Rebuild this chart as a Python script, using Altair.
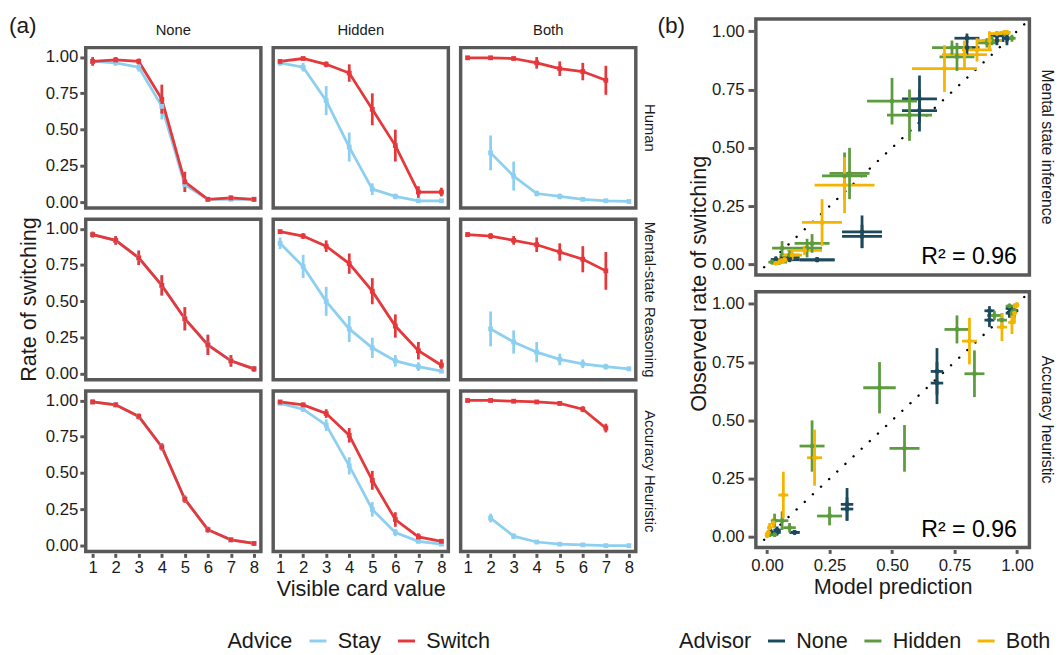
import altair as alt
import pandas as pd

FONT = "Liberation Sans"
TXT = "#1a1a1a"

cards = [1, 2, 3, 4, 5, 6, 7, 8]
models = ["Human", "Mental-state Reasoning", "Accuracy Heuristic"]
advisors = ["None", "Hidden", "Both"]
advices = ["Stay", "Switch"]

# ---- Human (observed) ----
human_none_stay = [0.97, 0.96, 0.93, 0.66, 0.12, 0.02, 0.02, 0.02]
human_none_stay_err = [0.02, 0.02, 0.03, 0.09, 0.05, 0.01, 0.01, 0.01]
human_none_switch = [0.97, 0.98, 0.97, 0.71, 0.14, 0.02, 0.03, 0.02]
human_none_switch_err = [0.03, 0.02, 0.02, 0.10, 0.07, 0.01, 0.015, 0.015]
human_hidden_stay = [0.96, 0.93, 0.70, 0.38, 0.09, 0.04, 0.01, 0.01]
human_hidden_stay_err = [0.02, 0.03, 0.10, 0.10, 0.04, 0.02, 0.01, 0.01]
human_hidden_switch = [0.97, 0.99, 0.95, 0.89, 0.64, 0.39, 0.07, 0.07]
human_hidden_switch_err = [0.015, 0.01, 0.02, 0.06, 0.11, 0.11, 0.04, 0.03]
human_both_stay = [None, 0.34, 0.18, 0.06, 0.04, 0.02, 0.01, 0.005]
human_both_stay_err = [None, 0.12, 0.10, 0.02, 0.02, 0.01, 0.01, 0.01]
human_both_switch = [0.995, 0.995, 0.99, 0.96, 0.92, 0.90, 0.84, None]
human_both_switch_err = [0.01, 0.01, 0.01, 0.04, 0.05, 0.06, 0.10, None]

# ---- Mental-state reasoning model ----
msr_none_stay = [0.96, 0.92, 0.80, 0.61, 0.38, 0.20, 0.09, 0.035]
msr_none_stay_err = [0.02, 0.03, 0.05, 0.07, 0.08, 0.07, 0.04, 0.02]
msr_none_switch = [0.96, 0.92, 0.80, 0.61, 0.38, 0.20, 0.09, 0.035]
msr_none_switch_err = [0.02, 0.03, 0.05, 0.07, 0.08, 0.07, 0.04, 0.02]
msr_hidden_stay = [0.90, 0.74, 0.50, 0.31, 0.18, 0.09, 0.05, 0.02]
msr_hidden_stay_err = [0.04, 0.08, 0.10, 0.09, 0.07, 0.04, 0.03, 0.015]
msr_hidden_switch = [0.98, 0.95, 0.88, 0.76, 0.57, 0.33, 0.16, 0.06]
msr_hidden_switch_err = [0.015, 0.02, 0.04, 0.07, 0.09, 0.08, 0.06, 0.04]
msr_both_stay = [None, 0.31, 0.22, 0.15, 0.10, 0.07, 0.05, 0.035]
msr_both_stay_err = [None, 0.12, 0.08, 0.07, 0.04, 0.03, 0.02, 0.015]
msr_both_switch = [0.96, 0.95, 0.92, 0.89, 0.84, 0.79, 0.71, None]
msr_both_switch_err = [0.015, 0.02, 0.03, 0.05, 0.06, 0.09, 0.13, None]

# ---- Accuracy heuristic model ----
acc_none_stay = [0.99, 0.97, 0.89, 0.68, 0.32, 0.11, 0.04, 0.015]
acc_none_stay_err = [0.015, 0.015, 0.02, 0.025, 0.025, 0.02, 0.015, 0.01]
acc_none_switch = [0.99, 0.97, 0.89, 0.68, 0.32, 0.11, 0.04, 0.015]
acc_none_switch_err = [0.015, 0.015, 0.02, 0.025, 0.025, 0.02, 0.015, 0.01]
acc_hidden_stay = [0.98, 0.94, 0.83, 0.55, 0.25, 0.09, 0.03, 0.01]
acc_hidden_stay_err = [0.01, 0.02, 0.04, 0.06, 0.05, 0.025, 0.015, 0.01]
acc_hidden_switch = [0.99, 0.97, 0.91, 0.76, 0.45, 0.18, 0.06, 0.03]
acc_hidden_switch_err = [0.01, 0.015, 0.03, 0.05, 0.065, 0.05, 0.025, 0.015]
acc_both_stay = [None, 0.19, 0.065, 0.025, 0.01, 0.005, 0.0, 0.0]
acc_both_stay_err = [None, 0.03, 0.02, 0.01, 0.01, 0.005, 0.005, 0.005]
acc_both_switch = [1.0, 1.0, 0.995, 0.99, 0.98, 0.94, 0.81, None]
acc_both_switch_err = [0.005, 0.005, 0.005, 0.01, 0.015, 0.02, 0.03, None]

series = {
    ("Human", "None", "Stay"): (human_none_stay, human_none_stay_err),
    ("Human", "None", "Switch"): (human_none_switch, human_none_switch_err),
    ("Human", "Hidden", "Stay"): (human_hidden_stay, human_hidden_stay_err),
    ("Human", "Hidden", "Switch"): (human_hidden_switch, human_hidden_switch_err),
    ("Human", "Both", "Stay"): (human_both_stay, human_both_stay_err),
    ("Human", "Both", "Switch"): (human_both_switch, human_both_switch_err),
    ("Mental-state Reasoning", "None", "Stay"): (msr_none_stay, msr_none_stay_err),
    ("Mental-state Reasoning", "None", "Switch"): (msr_none_switch, msr_none_switch_err),
    ("Mental-state Reasoning", "Hidden", "Stay"): (msr_hidden_stay, msr_hidden_stay_err),
    ("Mental-state Reasoning", "Hidden", "Switch"): (msr_hidden_switch, msr_hidden_switch_err),
    ("Mental-state Reasoning", "Both", "Stay"): (msr_both_stay, msr_both_stay_err),
    ("Mental-state Reasoning", "Both", "Switch"): (msr_both_switch, msr_both_switch_err),
    ("Accuracy Heuristic", "None", "Stay"): (acc_none_stay, acc_none_stay_err),
    ("Accuracy Heuristic", "None", "Switch"): (acc_none_switch, acc_none_switch_err),
    ("Accuracy Heuristic", "Hidden", "Stay"): (acc_hidden_stay, acc_hidden_stay_err),
    ("Accuracy Heuristic", "Hidden", "Switch"): (acc_hidden_switch, acc_hidden_switch_err),
    ("Accuracy Heuristic", "Both", "Stay"): (acc_both_stay, acc_both_stay_err),
    ("Accuracy Heuristic", "Both", "Switch"): (acc_both_switch, acc_both_switch_err),
}

rows_a = []
for (m, adv, ad), (vals, errs) in series.items():
    for c, v, e in zip(cards, vals, errs):
        if v is None:
            continue
        rows_a.append(dict(model=m, advisor=adv, advice=ad, card=c, rate=v,
                           lo=max(v - e, 0), hi=min(v + e, 1.02)))
df_a = pd.DataFrame(rows_a)

model_panels = [("Mental-state Reasoning", "Mental state inference"),
                ("Accuracy Heuristic", "Accuracy heuristic")]
r2_labels = ["R² = 0.96", "R² = 0.96"]
diag_ends = [-0.012, 1.038]

rows_b = []
for (mkey, pname), r2 in zip(model_panels, r2_labels):
    for adv in advisors:
        for ad in advices:
            hv, he = series[("Human", adv, ad)]
            mv, me = series[(mkey, adv, ad)]
            for c, y, ye, x, xe in zip(cards, hv, he, mv, me):
                if y is None or x is None:
                    continue
                rows_b.append(dict(panel=pname, advisor=adv, advice=ad, card=c, r2=r2,
                                   pred=x, pred_lo=max(x - xe, 0), pred_hi=min(x + xe, 1.02),
                                   obs=y, obs_lo=max(y - ye, 0), obs_hi=min(y + ye, 1.02)))
df_b = pd.DataFrame(rows_b)


def make_legend(title, lx, ly):
    return alt.Legend(
        title=title, orient="none", legendX=lx, legendY=ly,
        direction="horizontal", titleOrient="left", symbolType="stroke",
        symbolStrokeWidth=3, symbolSize=300, labelFontSize=22, titleFontSize=22,
        titleFontWeight="normal", columnPadding=10, labelOffset=9, titlePadding=14)


# invisible 1x1 spacer so each column is aligned by its top edge
spacer = alt.Chart(pd.DataFrame({"s": [0]})).mark_point(size=1, opacity=0).encode(
    x=alt.value(0), y=alt.value(0)
).properties(width=1, height=1, view=alt.ViewBackground(strokeOpacity=0, strokeWidth=0))

# ---------------- (a) ----------------
xa = alt.X("card:Q", scale=alt.Scale(domain=[0.7, 8.3], nice=False, zero=False),
           axis=alt.Axis(values=cards, title=None, format="d", labelPadding=2))
ya = alt.Y("rate:Q", scale=alt.Scale(domain=[-0.04, 1.065], nice=False, zero=False),
           axis=alt.Axis(values=[0, 0.25, 0.5, 0.75, 1.0], format=".2f", title=None,
                         labelPadding=2))
ca = alt.Color("advice:N", scale=alt.Scale(domain=advices, range=["#8dcff0", "#e5383b"]),
               legend=make_legend("Advice", 144, 592))

lines_a = alt.Chart().mark_line(strokeWidth=2.8).encode(x=xa, y=ya, color=ca)
rules_a = alt.Chart().mark_rule(strokeWidth=2.8).encode(x=xa, y="lo:Q", y2="hi:Q", color=ca)
pts_a = alt.Chart().mark_square(size=24, opacity=1).encode(x=xa, y=ya, color=ca)

chart_a = alt.layer(lines_a, rules_a, pts_a, data=df_a).properties(
    width=178, height=163
).facet(
    row=alt.Row("model:N", sort=models, title="Rate of switching",
                header=alt.Header(labelOrient="right", labelAngle=90, labelFontSize=15,
                                  labelFont=FONT, labelColor=TXT, labelPadding=4,
                                  titleOrient="left", titleFontSize=22, titleFont=FONT,
                                  titleColor=TXT, titleFontWeight="normal", titlePadding=-6)),
    column=alt.Column("advisor:N", sort=advisors, title="Visible card value",
                      header=alt.Header(labelFontSize=15, labelFont=FONT, labelColor=TXT,
                                        labelPadding=7.5, titleOrient="bottom", titleFontSize=22,
                                        titleFont=FONT, titleColor=TXT,
                                        titleFontWeight="normal", titlePadding=-6)),
    spacing={"row": 7.5, "column": 8.5},
).properties(
    title=alt.TitleParams(text="(a)", anchor="start", frame="bounds", fontSize=23,
                          fontWeight="normal", font=FONT, color=TXT, offset=0, dx=-9, dy=15)
)

# ---------------- (b) ----------------
colors_b = ["#1c4a5c", "#5c9b3e", "#f5b400"]
xb = alt.X("pred:Q", scale=alt.Scale(domain=[-0.045, 1.05], nice=False, zero=False),
           axis=alt.Axis(values=[0, 0.25, 0.5, 0.75, 1.0], format=".2f",
                         title="Model prediction", labelPadding=4, titlePadding=4))
yb = alt.Y("obs:Q", scale=alt.Scale(domain=[-0.045, 1.052], nice=False, zero=False),
           axis=alt.Axis(values=[0, 0.25, 0.5, 0.75, 1.0], format=".2f", title=None,
                         labelPadding=4, tickSize=6))
cb = alt.Color("advisor:N", scale=alt.Scale(domain=advisors, range=colors_b),
               legend=make_legend("Advisor", -78, 621))

diag = alt.Chart().transform_aggregate(n="count()", groupby=["panel"]).mark_rule(
    color="black", strokeWidth=2.4, strokeDash=[0.1, 11.2], strokeCap="round"
).encode(x=alt.datum(diag_ends[0]), y=alt.datum(diag_ends[0]),
         x2=alt.datum(diag_ends[1]), y2=alt.datum(diag_ends[1]))
hbar = alt.Chart().mark_rule(strokeWidth=2.8).encode(x="pred_lo:Q", x2="pred_hi:Q", y=yb, color=cb)
vbar = alt.Chart().mark_rule(strokeWidth=2.8).encode(x=xb, y="obs_lo:Q", y2="obs_hi:Q", color=cb)
pts_b = alt.Chart().mark_circle(size=24, opacity=1).encode(x=xb, y=yb, color=cb)
r2_text = alt.Chart().transform_aggregate(n="count()", groupby=["panel", "r2"]).mark_text(
    align="right", baseline="alphabetic", fontSize=23.5, font=FONT, color="black"
).encode(x=alt.datum(1.0), y=alt.datum(0.0), text="r2:N")

chart_b = alt.layer(diag, hbar, vbar, pts_b, r2_text, data=df_b).properties(
    width=278, height=260
).facet(
    row=alt.Row("panel:N", sort=[p for _, p in model_panels], title="Observed rate of switching",
                header=alt.Header(labelOrient="right", labelAngle=90, labelFontSize=16,
                                  labelFont=FONT, labelColor=TXT, labelPadding=8,
                                  titleOrient="left", titleFontSize=22, titleFont=FONT,
                                  titleColor=TXT, titleFontWeight="normal", titlePadding=-10)),
    spacing=13,
).properties(
    title=alt.TitleParams(text="(b)", anchor="start", frame="bounds", fontSize=23,
                          fontWeight="normal", font=FONT, color=TXT, offset=0, dx=-22, dy=21)
)

col_a = alt.vconcat(spacer, chart_a, spacing=0).resolve_scale(
    color="independent", x="independent", y="independent")
col_b = alt.vconcat(spacer, chart_b, spacing=0).resolve_scale(
    color="independent", x="independent", y="independent")

chart = alt.hconcat(col_a, col_b, spacing=1).resolve_scale(
    color="independent", x="independent", y="independent"
).properties(padding=0).configure_view(
    stroke="#595959", strokeWidth=3.5
).configure_axis(
    labelFont=FONT, titleFont=FONT, labelFontSize=17, titleFontSize=22, labelColor=TXT,
    titleColor=TXT, titleFontWeight="normal", tickColor="#595959", tickWidth=3,
    tickSize=4, domain=False, grid=False, labelPadding=4, titlePadding=4
).configure_legend(
    labelFont=FONT, titleFont=FONT, labelColor=TXT, titleColor=TXT
).configure_title(font=FONT, color=TXT)

chart.save("out.html", embed_options={"renderer": "svg", "actions": False})
